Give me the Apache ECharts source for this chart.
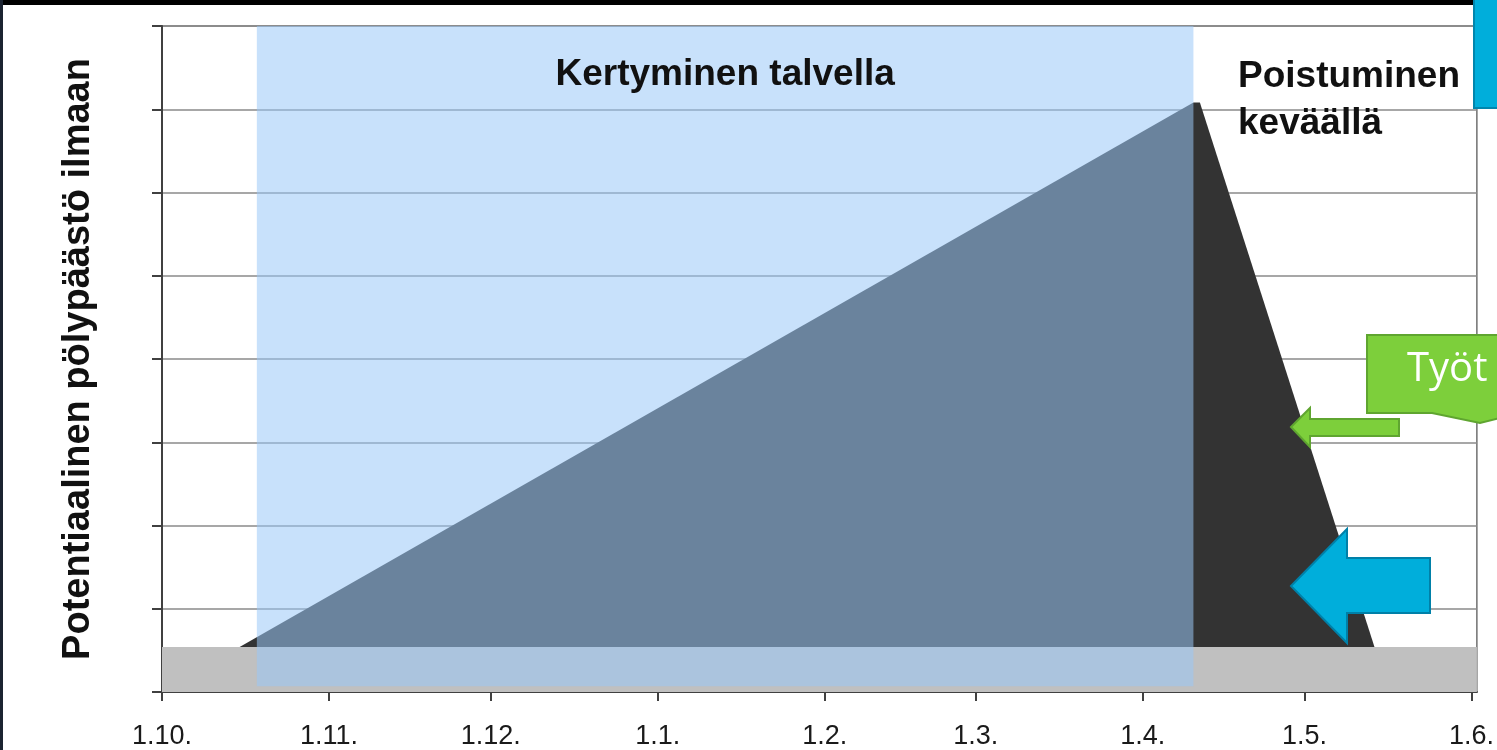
<!doctype html>
<html>
<head>
    <meta charset="utf-8">
    <title>Pölypäästö</title>
    <style>
    html, body { margin: 0; padding: 0; background: #fff; overflow: hidden; }
    #chart { width: 1497px; height: 750px; }
    </style>
</head>
<body>
<div id="chart"></div>
<script src="https://cdn.jsdelivr.net/npm/echarts@6.0.0/dist/echarts.min.js"></script>
<script type="text/javascript">
    // days counted from 1.10.
    var tickDays = [0, 31, 61, 92, 123, 151, 182, 212, 243];
    var tickLabels = ['1.10.', '1.11.', '1.12.', '1.1.', '1.2.', '1.3.', '1.4.', '1.5.', '1.6.'];

    // grey base level, whole season
    var baseDays = [0, 244];
    var baseValues = [0.54, 0.54];

    // dust collected in winter, released in spring
    var dustDays = [14.4, 191.4, 192.6, 225];
    var dustValues = [0.54, 7.08, 7.08, 0.54];

    // winter period (shaded)
    var winterDays = [17.6, 191.4];
    var winterLevels = [0.07, 8];

    var font = '"Liberation Sans", Arial, sans-serif';

    function pairs(xs, ys) {
        return xs.map(function (x, i) { return [x, ys[i]]; });
    }

    var myChart = echarts.init(document.getElementById('chart'));
    var option = {
        animation: false,
        backgroundColor: '#fff',
        grid: {
            left: 162,
            right: 16,
            top: 26,
            bottom: 58,
            show: true,
            borderColor: '#707070',
            borderWidth: 1.5
        },
        xAxis: {
            type: 'value',
            min: 0,
            max: 244,
            splitLine: { show: false },
            axisLine: { lineStyle: { color: '#404040', width: 2 } },
            axisTick: {
                customValues: tickDays,
                length: 9,
                lineStyle: { color: '#404040', width: 2 }
            },
            axisLabel: {
                customValues: tickDays,
                margin: 31,
                fontFamily: font,
                fontSize: 27,
                color: '#1a1a1a',
                formatter: function (v) {
                    var i = tickDays.indexOf(v);
                    return i >= 0 ? tickLabels[i] : '';
                }
            }
        },
        yAxis: {
            type: 'value',
            min: 0,
            max: 8,
            interval: 1,
            name: 'Potentiaalinen pölypäästö ilmaan',
            nameLocation: 'middle',
            nameRotate: 90,
            nameGap: 64,
            nameTextStyle: {
                fontFamily: font,
                fontSize: 38,
                fontWeight: 'bold',
                color: '#111'
            },
            axisLine: { show: true, lineStyle: { color: '#404040', width: 2 } },
            axisTick: { show: true, length: 10, lineStyle: { color: '#404040', width: 2 } },
            axisLabel: { show: false },
            splitLine: { lineStyle: { color: '#8a8a8a', width: 1.5 } }
        },
        series: [
            {
                name: 'päästö',
                type: 'line',
                z: 2,
                symbol: 'none',
                lineStyle: { width: 0 },
                areaStyle: { color: '#333333', opacity: 1 },
                data: pairs(dustDays, dustValues)
            },
            {
                name: 'tausta',
                type: 'line',
                z: 3,
                symbol: 'none',
                lineStyle: { width: 0 },
                areaStyle: { color: '#c0c0c0', opacity: 1 },
                data: pairs(baseDays, baseValues)
            },
            {
                name: 'talvi',
                type: 'line',
                z: 5,
                symbol: 'none',
                data: [],
                markArea: {
                    silent: true,
                    z: 10,
                    itemStyle: { color: 'rgba(153, 199, 248, 0.54)' },
                    label: {
                        show: true,
                        position: 'insideTop',
                        distance: 30,
                        fontFamily: font,
                        fontSize: 37,
                        fontWeight: 'bold',
                        color: '#111'
                    },
                    data: [[
                        { name: 'Kertyminen talvella', xAxis: winterDays[0], yAxis: winterLevels[0] },
                        { xAxis: winterDays[1], yAxis: winterLevels[1] }
                    ]]
                }
            }
        ],
        graphic: [
            { type: 'rect', z: 100, shape: { x: 0, y: 0, width: 1497, height: 5 }, style: { fill: '#000' } },
            { type: 'rect', z: 100, shape: { x: 0, y: 0, width: 3, height: 750 }, style: { fill: '#1b2331' } },
            {
                type: 'text', z: 100, left: 1238, top: 53,
                style: {
                    text: 'Poistuminen\nkeväällä',
                    font: 'bold 37px ' + font,
                    lineHeight: 47,
                    fill: '#111'
                }
            },
            {
                type: 'rect', z: 100,
                shape: { x: 1474, y: -2, width: 30, height: 110 },
                style: { fill: '#00aedb', stroke: '#0086ad', lineWidth: 2 }
            },
            {
                type: 'polygon', z: 100,
                shape: { points: [[1367, 335], [1500, 335], [1500, 418], [1480, 423], [1432, 413], [1367, 413]] },
                style: { fill: '#7dcf3b', stroke: '#5fa530', lineWidth: 2 }
            },
            {
                type: 'text', z: 101, left: 1407, top: 350,
                style: { text: 'Työt', font: '40px "Open Sans", "Noto Sans", sans-serif', fill: '#fff' }
            },
            {
                type: 'polygon', z: 100,
                shape: { points: [[1291, 427], [1310, 408], [1310, 419], [1399, 419], [1399, 436], [1310, 436], [1310, 447]] },
                style: { fill: '#7dcf3b', stroke: '#5fa530', lineWidth: 2 }
            },
            {
                type: 'polygon', z: 100,
                shape: { points: [[1291, 586], [1347, 529], [1347, 558], [1430, 558], [1430, 613], [1347, 613], [1347, 643]] },
                style: { fill: '#00aedb', stroke: '#0080a8', lineWidth: 2 }
            }
        ]
    };
    myChart.setOption(option);
</script>
</body>
</html>
